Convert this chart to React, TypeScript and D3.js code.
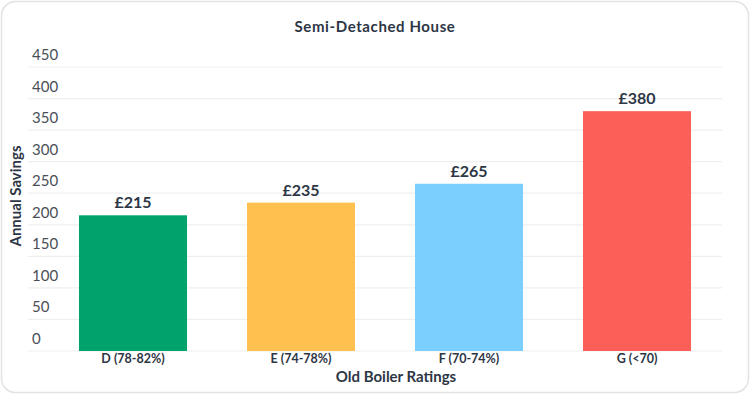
import { useRef, useEffect, FC } from 'react';
import * as d3 from 'd3';

const categories = ['D (78-82%)', 'E (74-78%)', 'F (70-74%)', 'G (<70)'];
const savings = [215, 235, 265, 380];
const barColors = ['#00a36c', '#fec04f', '#7acffe', '#fb5f57'];
const yTicks = [0, 50, 100, 150, 200, 250, 300, 350, 400, 450];

const WIDTH = 750;
const HEIGHT = 394;
const FONT = "Lato, 'Open Sans', sans-serif";
const TEXT = '#2d3645';

const App: FC = () => {
  const svgRef = useRef<SVGSVGElement | null>(null);

  useEffect(() => {
    const svg = d3.select(svgRef.current);
    svg.selectAll('*').remove();

    // card background
    svg
      .append('rect')
      .attr('x', 1.5)
      .attr('y', 1.5)
      .attr('width', WIDTH - 3)
      .attr('height', HEIGHT - 3)
      .attr('rx', 14)
      .attr('fill', '#fff')
      .attr('stroke', '#e2e2e2')
      .attr('stroke-width', 1.5);

    const xScale = d3
      .scaleBand<string>()
      .domain(categories)
      .range([49, 721])
      .paddingInner(0.357)
      .paddingOuter(0.1785);

    const yScale = d3.scaleLinear().domain([0, 450]).range([351, 67]);

    // gridlines + tick labels
    const grid = svg.append('g');
    grid
      .selectAll('line')
      .data(yTicks)
      .join('line')
      .attr('x1', 28)
      .attr('x2', 722)
      .attr('y1', d => yScale(d))
      .attr('y2', d => yScale(d))
      .attr('stroke', '#efefef')
      .attr('stroke-width', 1.2);

    grid
      .selectAll('text')
      .data(yTicks)
      .join('text')
      .attr('x', 32)
      .attr('y', d => yScale(d) - 7)
      .attr('font-family', FONT)
      .attr('font-weight', 400)
      .attr('font-size', 15)
      .attr('fill', '#4a4f57')
      .text(d => d);

    // bars
    svg
      .append('g')
      .selectAll('rect')
      .data(savings)
      .join('rect')
      .attr('x', (_d, i) => xScale(categories[i]) as number)
      .attr('y', d => yScale(d))
      .attr('width', xScale.bandwidth())
      .attr('height', d => yScale(0) - yScale(d))
      .attr('fill', (_d, i) => barColors[i]);

    // value labels
    svg
      .append('g')
      .selectAll('text')
      .data(savings)
      .join('text')
      .attr('x', (_d, i) => (xScale(categories[i]) as number) + xScale.bandwidth() / 2)
      .attr('y', d => yScale(d) - 7)
      .attr('text-anchor', 'middle')
      .attr('font-family', FONT)
      .attr('font-weight', 'bold')
      .attr('font-size', 16)
      .attr('fill', TEXT)
      .text(d => `£${d}`);

    // category labels
    svg
      .append('g')
      .selectAll('text')
      .data(categories)
      .join('text')
      .attr('x', d => (xScale(d) as number) + xScale.bandwidth() / 2)
      .attr('y', 363)
      .attr('text-anchor', 'middle')
      .attr('font-family', FONT)
      .attr('font-weight', 'bold')
      .attr('font-size', 12.5)
      .attr('fill', TEXT)
      .text(d => d);

    // titles
    svg
      .append('text')
      .attr('x', 375)
      .attr('y', 32)
      .attr('text-anchor', 'middle')
      .attr('font-family', FONT)
      .attr('font-weight', 'bold')
      .attr('font-size', 15)
      .attr('letter-spacing', 0.6)
      .attr('fill', TEXT)
      .text('Semi-Detached House');

    svg
      .append('text')
      .attr('x', 396)
      .attr('y', 382)
      .attr('text-anchor', 'middle')
      .attr('font-family', FONT)
      .attr('font-weight', 'bold')
      .attr('font-size', 15)
      .attr('fill', TEXT)
      .text('Old Boiler Ratings');

    svg
      .append('text')
      .attr('transform', 'translate(21, 196) rotate(-90)')
      .attr('text-anchor', 'middle')
      .attr('font-family', FONT)
      .attr('font-weight', 'bold')
      .attr('font-size', 15)
      .attr('fill', TEXT)
      .text('Annual Savings');
  }, []);

  return (
    <svg
      ref={svgRef}
      width={WIDTH}
      height={HEIGHT}
      style={{ position: 'absolute', left: 0, top: 0 }}
    ></svg>
  );
};

export default App;
